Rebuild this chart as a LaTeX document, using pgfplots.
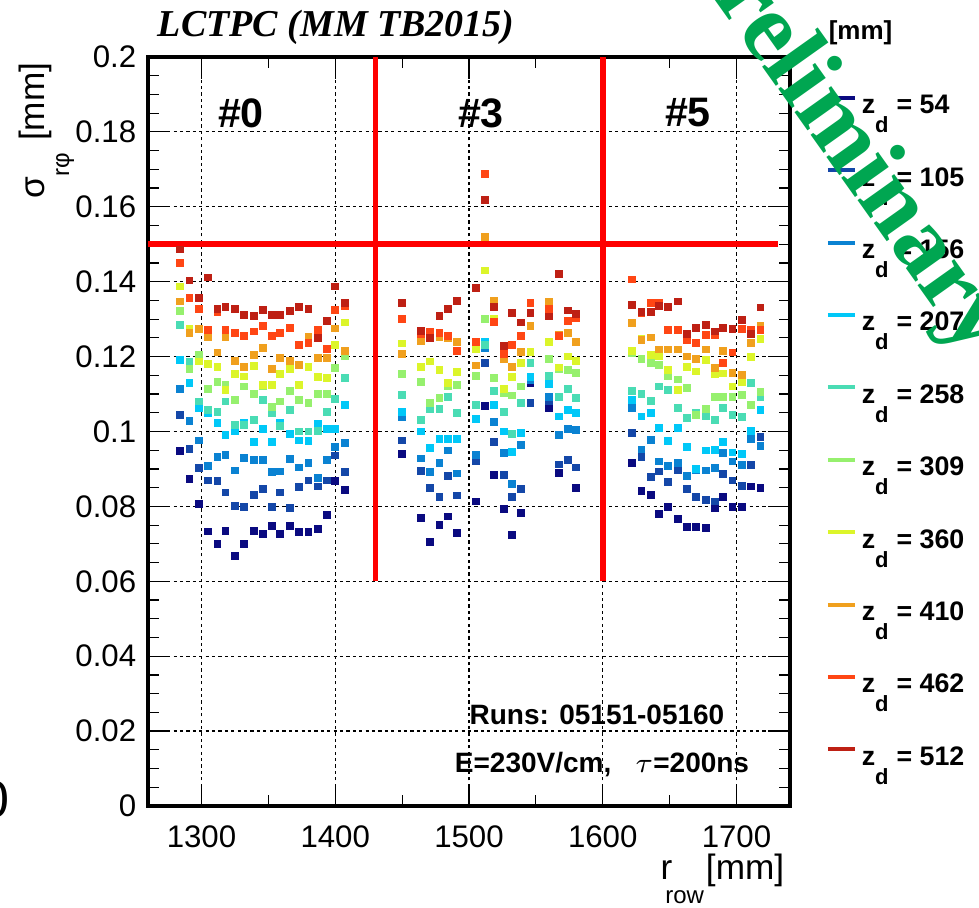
\documentclass[border=0pt]{standalone}
\usepackage{fontspec}
\setmainfont{Liberation Sans}
\newfontfamily\timesfont{Liberation Serif}
\usepackage{pgfplots}
\pgfplotsset{compat=1.18}

\definecolor{z54}{HTML}{0A0A80}
\definecolor{z105}{HTML}{1447A8}
\definecolor{z156}{HTML}{0A82D2}
\definecolor{z207}{HTML}{00C8F8}
\definecolor{z258}{HTML}{4ADCB4}
\definecolor{z309}{HTML}{96F06E}
\definecolor{z360}{HTML}{DCF52A}
\definecolor{z410}{HTML}{F0A01E}
\definecolor{z462}{HTML}{FF4614}
\definecolor{z512}{HTML}{BE2014}
\definecolor{prelim}{RGB}{0,166,81}

% legend entry: z with a low subscript d
\newcommand{\zd}[1]{z\raisebox{-4.75pt}{\fontsize{5.5}{6}\selectfont d}\hspace{2pt}= #1}

\begin{document}
\begin{tikzpicture}
\useasboundingbox (0,0) rectangle (244.75pt,227pt);
\begin{axis}[
  at={(37pt,25.5pt)}, anchor=south west,
  scale only axis, width=160.5pt, height=187.25pt,
  xmin=1260, xmax=1740, ymin=0, ymax=0.2,
  xtick={1300,1400,1500,1600,1700},
  ytick={0,0.02,0.04,0.06,0.08,0.1,0.12,0.14,0.16,0.18,0.2},
  minor x tick num=1, minor y tick num=3,
  tick align=inside,
  major tick length=5.5pt, minor tick length=2.75pt,
  tick style={black, line width=0.3pt},
  axis line style={line width=0.9pt},
  grid=major,
  major grid style={black, line width=0.3pt, dash pattern=on 0.8pt off 0.8pt},
  tick label style={font=\fontsize{7.8}{9}\selectfont,
    /pgf/number format/assume math mode=true},
  yticklabel style={/pgf/number format/fixed,
    /pgf/number format/precision=2, inner sep=0pt, xshift=-2.75pt},
  xticklabel style={/pgf/number format/1000 sep={}, inner sep=0pt, yshift=-4.75pt},
  legend style={at={(1.0545,0.9573)}, anchor=north west, draw=none, fill=none,
    font=\fontsize{6.7}{8}\selectfont\bfseries, row sep=0pt, column sep=1.25pt,
    inner sep=0pt, cells={anchor=base west},
    nodes={inner sep=0pt, outer sep=0pt, text height=6pt, text depth=12.1pt}},
  legend image code/.code={\draw[#1, line width=1pt] (0pt,4pt) -- (6.75pt,4pt);},
  every axis plot/.append style={only marks, mark=square*, mark size=0.78pt, forget plot},
]
\addlegendimage{z54}
\addlegendimage{z105}
\addlegendimage{z156}
\addlegendimage{z207}
\addlegendimage{z258}
\addlegendimage{z309}
\addlegendimage{z360}
\addlegendimage{z410}
\addlegendimage{z462}
\addlegendimage{z512}

% z_d = 54
\addplot[z54] table {
1284 0.0948
1291 0.0873
1298 0.0807
1305 0.0733
1312 0.0700
1318 0.0735
1325 0.0667
1332 0.0700
1339 0.0735
1346 0.0727
1353 0.0747
1359 0.0727
1366 0.0748
1373 0.0731
1380 0.0731
1387 0.0740
1394 0.0776
1400 0.0867
1407 0.0844
1450 0.0940
1464 0.0770
1471 0.0704
1478 0.0750
1484 0.0773
1491 0.0728
1505 0.0813
1512 0.1067
1519 0.0884
1526 0.0793
1532 0.0724
1539 0.0782
1546 0.1129
1560 0.1062
1567 0.0890
1580 0.0850
1622 0.0915
1629 0.0841
1636 0.0831
1642 0.0779
1649 0.0799
1656 0.0766
1663 0.0746
1670 0.0746
1677 0.0742
1684 0.0795
1690 0.0826
1697 0.0799
1704 0.0798
1711 0.0853
1718 0.0848
};
% z_d = 105
\addplot[z105] table {
1284 0.1044
1291 0.0954
1298 0.0902
1305 0.0869
1312 0.0867
1318 0.0837
1325 0.0802
1332 0.0798
1339 0.0831
1346 0.0847
1353 0.0798
1359 0.0837
1366 0.0796
1373 0.0851
1380 0.0869
1387 0.0853
1394 0.0869
1400 0.0936
1407 0.0891
1450 0.0976
1464 0.0895
1471 0.0850
1478 0.0826
1484 0.0882
1491 0.0829
1505 0.0920
1512 0.1182
1519 0.0971
1526 0.0884
1532 0.0826
1539 0.0847
1546 0.1077
1560 0.1080
1567 0.0912
1574 0.0924
1580 0.0904
1622 0.0997
1629 0.0931
1636 0.0878
1642 0.0893
1649 0.0866
1656 0.0897
1663 0.0847
1670 0.0824
1677 0.0817
1684 0.0813
1690 0.0887
1697 0.0869
1704 0.0855
1711 0.0911
1718 0.0985
};
% z_d = 156
\addplot[z156] table {
1284 0.1114
1291 0.1027
1298 0.0976
1305 0.0907
1312 0.0931
1318 0.0937
1325 0.0896
1332 0.0929
1339 0.0923
1346 0.0923
1353 0.0891
1359 0.0893
1366 0.0927
1373 0.0904
1380 0.0916
1387 0.0876
1394 0.0924
1400 0.0958
1407 0.0969
1450 0.1038
1464 0.0928
1471 0.0891
1478 0.0915
1484 0.0949
1491 0.0888
1505 0.0937
1512 0.1222
1519 0.1026
1526 0.0942
1532 0.0860
1539 0.0964
1546 0.1138
1560 0.1093
1567 0.0991
1574 0.1006
1580 0.1004
1622 0.1062
1629 0.0952
1636 0.0977
1642 0.0920
1649 0.0908
1656 0.0915
1663 0.0881
1670 0.0896
1677 0.0896
1684 0.0902
1690 0.0942
1697 0.0920
1704 0.0911
1711 0.0979
1718 0.0961
};
% z_d = 207
\addplot[z207] table {
1284 0.1191
1291 0.1129
1298 0.1062
1305 0.1049
1312 0.1022
1318 0.0991
1325 0.1000
1332 0.1024
1339 0.0972
1346 0.1006
1353 0.0972
1359 0.1024
1366 0.0994
1373 0.0976
1380 0.0975
1387 0.1020
1394 0.1006
1400 0.1006
1407 0.1071
1450 0.1053
1464 0.1000
1471 0.0955
1478 0.0980
1484 0.0980
1491 0.0980
1505 0.1034
1512 0.1238
1519 0.1071
1526 0.1000
1532 0.0946
1539 0.0995
1546 0.1146
1560 0.1127
1567 0.1040
1574 0.1058
1580 0.1049
1622 0.1084
1629 0.1040
1636 0.1049
1642 0.1009
1649 0.0975
1656 0.1010
1663 0.0958
1670 0.0900
1677 0.0949
1684 0.0951
1690 0.0973
1697 0.0944
1704 0.0940
1711 0.1002
1718 0.1058
};
% z_d = 258
\addplot[z258] table {
1284 0.1285
1291 0.1185
1298 0.1080
1305 0.1058
1312 0.1052
1318 0.1080
1325 0.1018
1332 0.1018
1339 0.1031
1346 0.1084
1353 0.1049
1359 0.1015
1366 0.1058
1373 0.1000
1380 0.1000
1387 0.1002
1394 0.1052
1400 0.1086
1407 0.1142
1450 0.1098
1464 0.1030
1471 0.1059
1478 0.1059
1484 0.1093
1491 0.1049
1505 0.1071
1512 0.1231
1519 0.1109
1526 0.1051
1532 0.0993
1539 0.1077
1546 0.1182
1560 0.1148
1567 0.1093
1574 0.1114
1580 0.1090
1622 0.1109
1629 0.1099
1636 0.1082
1642 0.1120
1649 0.1111
1656 0.1062
1663 0.1035
1670 0.1049
1677 0.1041
1684 0.1031
1690 0.1062
1697 0.1044
1704 0.1038
1711 0.1130
1718 0.1091
};
% z_d = 309
\addplot[z309] table {
1284 0.1322
1291 0.1166
1298 0.1205
1305 0.1113
1312 0.1131
1318 0.1124
1325 0.1083
1332 0.1120
1339 0.1100
1346 0.1120
1353 0.1065
1359 0.1080
1366 0.1109
1373 0.1083
1380 0.1077
1387 0.1100
1394 0.1100
1400 0.1169
1407 0.1202
1450 0.1154
1464 0.1133
1471 0.1077
1478 0.1089
1484 0.1120
1491 0.1123
1505 0.1148
1512 0.1300
1519 0.1142
1526 0.1102
1532 0.1096
1539 0.1120
1546 0.1213
1560 0.1194
1567 0.1166
1574 0.1164
1580 0.1157
1622 0.1209
1629 0.1193
1636 0.1182
1642 0.1178
1649 0.1147
1656 0.1139
1663 0.1117
1670 0.1044
1677 0.1059
1684 0.1093
1690 0.1093
1697 0.1093
1704 0.1098
1711 0.1070
1718 0.1106
};
% z_d = 360
\addplot[z360] table {
1284 0.1387
1291 0.1273
1298 0.1187
1305 0.1180
1312 0.1173
1318 0.1111
1325 0.1154
1332 0.1147
1339 0.1175
1346 0.1123
1353 0.1124
1359 0.1154
1366 0.1166
1373 0.1123
1380 0.1172
1387 0.1145
1394 0.1142
1400 0.1231
1407 0.1291
1450 0.1235
1464 0.1172
1471 0.1187
1478 0.1164
1484 0.1129
1491 0.1158
1505 0.1220
1512 0.1430
1519 0.1300
1526 0.1114
1532 0.1146
1539 0.1182
1546 0.1213
1560 0.1238
1567 0.1171
1574 0.1200
1580 0.1189
1622 0.1216
1629 0.1246
1636 0.1204
1642 0.1200
1649 0.1164
1656 0.1111
1663 0.1173
1670 0.1160
1677 0.1191
1684 0.1153
1690 0.1155
1697 0.1120
1704 0.1133
1711 0.1198
1718 0.1246
};
% z_d = 410
\addplot[z410] table {
1284 0.1347
1291 0.1262
1298 0.1273
1305 0.1253
1312 0.1211
1318 0.1251
1325 0.1188
1332 0.1173
1339 0.1205
1346 0.1222
1353 0.1166
1359 0.1197
1366 0.1188
1373 0.1178
1380 0.1253
1387 0.1197
1394 0.1197
1400 0.1275
1407 0.1216
1450 0.1207
1464 0.1242
1471 0.1254
1478 0.1252
1484 0.1249
1491 0.1238
1505 0.1176
1512 0.1520
1519 0.1349
1526 0.1193
1532 0.1173
1539 0.1213
1546 0.1282
1560 0.1347
1567 0.1258
1574 0.1262
1580 0.1240
1622 0.1289
1629 0.1244
1636 0.1251
1642 0.1219
1649 0.1219
1656 0.1219
1663 0.1200
1670 0.1193
1677 0.1219
1684 0.1169
1690 0.1216
1697 0.1157
1704 0.1151
1711 0.1236
1718 0.1282
};
% z_d = 462
\addplot[z462] table {
1284 0.1449
1291 0.1356
1298 0.1326
1305 0.1271
1312 0.1320
1318 0.1271
1325 0.1262
1332 0.1255
1339 0.1267
1346 0.1282
1353 0.1256
1359 0.1262
1366 0.1277
1373 0.1231
1380 0.1236
1387 0.1271
1394 0.1220
1400 0.1324
1407 0.1335
1450 0.1300
1464 0.1260
1471 0.1265
1478 0.1262
1484 0.1256
1491 0.1216
1505 0.1238
1512 0.1688
1519 0.1292
1526 0.1207
1532 0.1231
1539 0.1256
1546 0.1342
1560 0.1327
1567 0.1256
1574 0.1296
1580 0.1302
1622 0.1406
1629 0.1316
1636 0.1342
1642 0.1342
1649 0.1271
1656 0.1271
1663 0.1244
1670 0.1236
1677 0.1258
1684 0.1258
1690 0.1182
1697 0.1211
1704 0.1273
1711 0.1271
1718 0.1271
};
% z_d = 512
\addplot[z512] table {
1284 0.1486
1291 0.1403
1298 0.1356
1305 0.1411
1312 0.1327
1318 0.1332
1325 0.1327
1332 0.1311
1339 0.1309
1346 0.1324
1353 0.1311
1359 0.1311
1366 0.1322
1373 0.1333
1380 0.1327
1387 0.1249
1394 0.1296
1400 0.1387
1407 0.1342
1450 0.1344
1464 0.1268
1471 0.1249
1478 0.1309
1484 0.1327
1491 0.1349
1505 0.1383
1512 0.1618
1519 0.1333
1526 0.1228
1532 0.1317
1539 0.1291
1546 0.1316
1560 0.1307
1567 0.1420
1574 0.1323
1580 0.1313
1622 0.1338
1629 0.1320
1636 0.1320
1642 0.1335
1649 0.1333
1656 0.1347
1663 0.1260
1670 0.1276
1677 0.1284
1684 0.1267
1690 0.1277
1697 0.1273
1704 0.1298
1711 0.1260
1718 0.1331
};

% module boundaries and the 0.15 mm line
\addplot[red, line width=1.4pt, no marks, sharp plot] coordinates {(1260,0.15) (1731,0.15)};
\addplot[red, line width=1.4pt, no marks, sharp plot] coordinates {(1430,0.06) (1430,0.2)};
\addplot[red, line width=1.4pt, no marks, sharp plot] coordinates {(1600,0.06) (1600,0.2)};

\legend{\zd{54},\zd{105},\zd{156},\zd{207},\zd{258},\zd{309},\zd{360},\zd{410},\zd{462},\zd{512}}
\end{axis}

% texts placed in page coordinates (1 px = 0.25 pt)
\node[anchor=base west, inner sep=0pt, font=\timesfont\bfseries\itshape\fontsize{9.5}{11}\selectfont]
  at (39.25pt,217.75pt) {LCTPC (MM TB2015)};
\node[anchor=base west, inner sep=0pt, font=\fontsize{6.5}{8}\selectfont\bfseries]
  at (207pt,217pt) {[mm]};
\begin{scope}[every node/.style={inner sep=0pt, font=\fontsize{10.3}{12}\selectfont\bfseries}]
  \node at (60.25pt,198.75pt) {\#0};
  \node at (120.25pt,198.75pt) {\#3};
  \node at (172pt,198.75pt) {\#5};
\end{scope}
\node[anchor=base, inner sep=0pt, font=\fontsize{7}{8}\selectfont\bfseries]
  at (149.25pt,45.75pt) {Runs: 05151-05160};
\node[anchor=base, inner sep=0pt, font=\fontsize{7}{8}\selectfont\bfseries]
  at (150.5pt,33.75pt) {E=230V/cm,\hspace{6pt}$\tau$=200ns};
\node[anchor=base east, inner sep=0pt, rotate=90, font=\fontsize{8.8}{10}\selectfont]
  at (11.25pt,211.5pt) {σ\raisebox{-6pt}{\fontsize{6}{7}\selectfont rφ}\hspace{3pt}[mm]};
\node[anchor=base east, inner sep=0pt, font=\fontsize{8.8}{10}\selectfont]
  at (196.25pt,7pt) {r\hspace{-1.75pt}\raisebox{-6pt}{\fontsize{6}{7}\selectfont row}\hspace{0.5pt}[mm]};
\node[anchor=east, inner sep=0pt, font=\fontsize{13}{15}\selectfont]
  at (2.5pt,27pt) {0};
\node[anchor=base, inner sep=0pt, rotate=-54.6, text=prelim,
  font=\timesfont\bfseries\fontsize{24.5}{28}\selectfont]
  at (206pt,188.75pt) {Preliminary};
\end{tikzpicture}
\end{document}
